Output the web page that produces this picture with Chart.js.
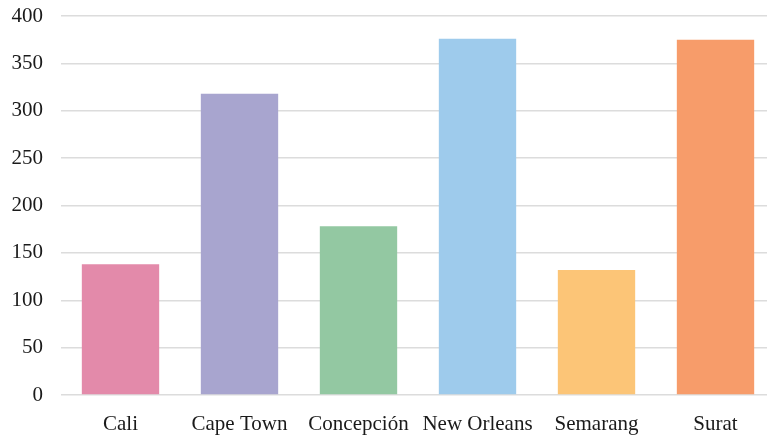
<!DOCTYPE html>
<html>
<head>
<meta charset="utf-8">
<script src="https://cdn.jsdelivr.net/npm/chart.js@4.4.0/dist/chart.umd.min.js"></script>
<style>
  html, body { margin: 0; padding: 0; background: #fff; overflow: hidden; }
  #wrap { width: 775px; height: 438px; }
</style>
</head>
<body>
<div id="wrap"><canvas id="chart" width="775" height="438"></canvas></div>
<script>
const cities = ['Cali', 'Cape Town', 'Concepción', 'New Orleans', 'Semarang', 'Surat'];
const values = [138, 318, 178, 376, 132, 375];
const barColors = ['#E38AAA', '#A8A5CF', '#93C8A2', '#9ECBEC', '#FCC577', '#F79C6A'];
const yTicks = [0, 50, 100, 150, 200, 250, 300, 350, 400];

const serif = { family: '"Liberation Serif", "Times New Roman", serif', size: 21 };

new Chart(document.getElementById('chart'), {
  type: 'bar',
  data: {
    labels: cities,
    datasets: [{
      data: values,
      backgroundColor: barColors,
      borderWidth: 0,
      barPercentage: 0.65,
      categoryPercentage: 1
    }]
  },
  options: {
    responsive: false,
    animation: false,
    layout: { padding: { top: 16, right: 0, left: 0, bottom: 0 } },
    plugins: { legend: { display: false }, tooltip: { enabled: false } },
    scales: {
      x: {
        grid: { display: false },
        border: { display: false },
        ticks: { color: '#1a1a1a', font: serif, padding: 9, maxRotation: 0 },
        afterFit: s => { s.height = 43; s.paddingLeft = 0; s.paddingRight = 0; }
      },
      y: {
        min: 0,
        max: 400,
        afterBuildTicks: s => { s.ticks = yTicks.map(v => ({ value: v })); },
        grid: { color: '#dcdcdc', lineWidth: 1.5, drawTicks: false },
        border: { display: false },
        ticks: { color: '#1a1a1a', font: serif, padding: 18 },
        afterFit: s => { s.width = 61; s.paddingTop = 0; s.paddingBottom = 0; }
      }
    }
  }
});
</script>
</body>
</html>
